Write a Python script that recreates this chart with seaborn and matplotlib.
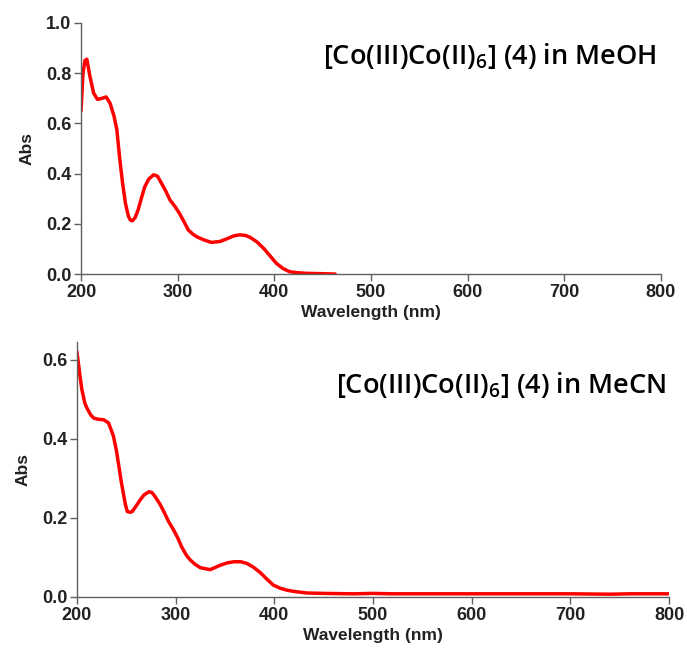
import numpy as np
import pandas as pd
import matplotlib
matplotlib.use('Agg')
import matplotlib.pyplot as plt
import seaborn as sns

# 光谱数据
wl_meoh = [200, 202, 204, 206, 209, 213, 217, 222, 226, 230, 234, 237, 240, 243, 246, 249,
           251, 253, 256, 259, 263, 266, 270, 275, 279, 282, 287, 292, 297, 302, 307, 311,
           316, 320, 327, 335, 344, 352, 358, 364, 370, 375, 382, 389, 395, 402, 409, 416,
           425, 433, 445, 463]
abs_meoh = [0.65, 0.80, 0.85, 0.855, 0.79, 0.72, 0.695, 0.70, 0.705, 0.68, 0.63, 0.575, 0.46, 0.36, 0.28, 0.23,
            0.215, 0.212, 0.225, 0.255, 0.31, 0.348, 0.378, 0.395, 0.39, 0.37, 0.335, 0.295, 0.27, 0.24, 0.205, 0.175,
            0.158, 0.148, 0.136, 0.126, 0.13, 0.142, 0.152, 0.156, 0.154, 0.146, 0.128, 0.102, 0.075, 0.043, 0.022, 0.009,
            0.005, 0.003, 0.002, 0.0]

wl_mecn = [200, 203, 205, 208, 210, 214, 217, 222, 227, 232, 235, 237, 240, 242, 245, 247,
           249, 251, 254, 256, 260, 264, 268, 273, 276, 279, 284, 288, 293, 298, 302, 306,
           311, 315, 320, 325, 335, 345, 352, 359, 366, 372, 379, 386, 392, 399, 406, 413,
           420, 433, 450, 480, 500, 520, 560, 600, 650, 700, 740, 760, 800]
abs_mecn = [0.62, 0.56, 0.524, 0.49, 0.478, 0.46, 0.452, 0.449, 0.448, 0.44, 0.42, 0.406, 0.37, 0.338, 0.29, 0.262,
            0.235, 0.216, 0.214, 0.216, 0.23, 0.245, 0.258, 0.266, 0.264, 0.254, 0.235, 0.216, 0.19, 0.169, 0.15, 0.127,
            0.105, 0.093, 0.082, 0.074, 0.069, 0.08, 0.086, 0.089, 0.089, 0.085, 0.075, 0.061, 0.046, 0.03, 0.022, 0.017,
            0.014, 0.010, 0.009, 0.008, 0.009, 0.008, 0.008, 0.008, 0.008, 0.008, 0.007, 0.008, 0.008]

titles = ['[Co(III)Co(II)$_6$] (4) in MeOH', '[Co(III)Co(II)$_6$] (4) in MeCN']
x_ticks = [200, 300, 400, 500, 600, 700, 800]

sns.set_style('ticks')
plt.rcParams['font.family'] = ['Liberation Sans', 'DejaVu Sans']
plt.rcParams['mathtext.fontset'] = 'custom'
plt.rcParams['mathtext.rm'] = 'Open Sans:semibold'
plt.rcParams['mathtext.it'] = 'Open Sans:semibold'
plt.rcParams['mathtext.default'] = 'regular'

fig = plt.figure(figsize=(6.87, 6.51), dpi=100)
ax1 = fig.add_axes([0.118, 0.579, 0.844, 0.386])
ax2 = fig.add_axes([0.112, 0.083, 0.862, 0.392])

spine_c = '#606060'
for ax, wl, ab, ttl, ylim, yticks in [
        (ax1, wl_meoh, abs_meoh, titles[0], (0, 1.0), [0.0, 0.2, 0.4, 0.6, 0.8, 1.0]),
        (ax2, wl_mecn, abs_mecn, titles[1], (0, 0.645), [0.0, 0.2, 0.4, 0.6])]:
    df = pd.DataFrame({'wl': wl, 'abs': ab})
    sns.lineplot(data=df, x='wl', y='abs', ax=ax, color='#ff0000', linewidth=2.5)
    ax.set_xlim(200, 800)
    ax.set_ylim(*ylim)
    ax.set_xticks(x_ticks)
    ax.set_yticks(yticks)
    ax.set_yticklabels([f'{v:.1f}' for v in yticks])
    sns.despine(ax=ax)
    for s in ['left', 'bottom']:
        ax.spines[s].set_color(spine_c)
        ax.spines[s].set_linewidth(1.0)
    ax.tick_params(axis='both', colors=spine_c, length=5, width=1.0, labelsize=13, pad=2)
    for lbl in ax.get_xticklabels() + ax.get_yticklabels():
        lbl.set_color('#222222')
        lbl.set_fontweight('bold')
    ax.set_xlabel('Wavelength (nm)', fontsize=12.5, fontweight='bold', color='#222222', labelpad=3)
    ax.set_ylabel('Abs', fontsize=12.5, fontweight='bold', color='#222222', labelpad=8)

fig.text(0.713, 1 - 56 / 651, titles[0], fontsize=19.5, family='Open Sans', fontweight='semibold',
         color='black', ha='center', va='center')
fig.text(0.729, 1 - 385 / 651, titles[1], fontsize=19.5, family='Open Sans', fontweight='semibold',
         color='black', ha='center', va='center')

fig.savefig('out.png', dpi=100)
